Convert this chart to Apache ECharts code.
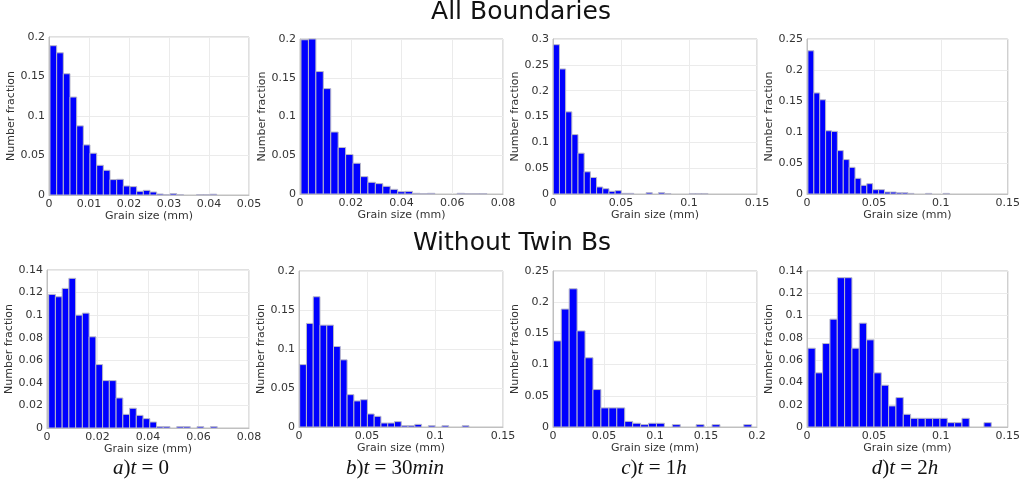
<!DOCTYPE html>
<html>
<head>
<meta charset="utf-8">
<script src="https://cdn.jsdelivr.net/npm/echarts@6/dist/echarts.min.js"></script>
<style>
  html, body { margin: 0; padding: 0; background: #fff; }
  #main { width: 1023px; height: 490px; }
</style>
</head>
<body>
<div id="main"></div>
<script>
// histogram bar heights (number fraction)
// top row: all boundaries
var allT0 = [0.189, 0.180, 0.1535, 0.124, 0.0875, 0.0634, 0.0529, 0.0376, 0.0313, 0.0195, 0.0199, 0.0114, 0.0106, 0.0047, 0.0059, 0.0038, 0.0013, 0.0004, 0.0017, 0.0004, 0, 0, 0.0005, 0.0005, 0.001];
var allT30 = [0.199, 0.2, 0.158, 0.136, 0.080, 0.060, 0.051, 0.0397, 0.0224, 0.0151, 0.0134, 0.0099, 0.006, 0.003, 0.0034, 0.0009, 0.0004, 0.0009, 0, 0, 0, 0.0009, 0.0005, 0.0005, 0.0005];
var allT1h = [0.289, 0.242, 0.159, 0.115, 0.079, 0.043, 0.032, 0.0136, 0.0103, 0.0052, 0.0065, 0.0013, 0.0013, 0, 0, 0.0026, 0, 0.0026, 0.0008, 0, 0, 0, 0.001, 0.001, 0.001];
var allT2h = [0.231, 0.163, 0.152, 0.102, 0.101, 0.070, 0.0555, 0.043, 0.0253, 0.014, 0.0167, 0.007, 0.007, 0.0032, 0.0032, 0.002, 0.002, 0.001, 0, 0, 0.001, 0, 0, 0.001];
// bottom row: without twin boundaries
var noTwinT0 = [0.1184, 0.1163, 0.1237, 0.1326, 0.100, 0.1018, 0.0808, 0.0562, 0.042, 0.042, 0.0266, 0.0121, 0.0175, 0.0112, 0.0083, 0.0053, 0.0012, 0.0012, 0, 0.0012, 0.0012, 0, 0.0012, 0, 0.0012];
var noTwinT30 = [0.080, 0.1328, 0.167, 0.1306, 0.1306, 0.1032, 0.0861, 0.0415, 0.0334, 0.035, 0.0167, 0.0137, 0.0051, 0.0051, 0.0069, 0.0017, 0.0017, 0.0034, 0, 0.0017, 0, 0.0017, 0, 0, 0.0017];
var noTwinT1h = [0.138, 0.189, 0.2215, 0.154, 0.111, 0.060, 0.0306, 0.0306, 0.0306, 0.009, 0.006, 0.0038, 0.006, 0.006, 0, 0.0038, 0, 0, 0.0038, 0, 0.0038, 0, 0, 0, 0.0038];
var noTwinT2h = [0.0707, 0.0486, 0.0749, 0.0968, 0.134, 0.134, 0.0707, 0.0932, 0.0782, 0.0486, 0.0375, 0.0189, 0.0264, 0.0114, 0.0078, 0.0078, 0.0078, 0.0078, 0.0078, 0.0039, 0.0039, 0.0078, 0, 0, 0.0039];

// bin start and bin width (mm) for each panel, same order as above
var binStart = [0.00025, 0.0004, 0.0002, 0.0007, 0.00066, 0.0005, 0.0003, 0.0007];
var binWidth = [0.001667, 0.00293, 0.00455, 0.0044, 0.00267, 0.00498, 0.00778, 0.00548];

// axis ranges and tick steps
var xMax = [0.05, 0.08, 0.15, 0.15, 0.08, 0.15, 0.2, 0.15];
var xStep = [0.01, 0.02, 0.05, 0.05, 0.02, 0.05, 0.05, 0.05];
var yMax = [0.2, 0.2, 0.3, 0.25, 0.14, 0.2, 0.25, 0.14];
var yStep = [0.05, 0.05, 0.05, 0.05, 0.02, 0.05, 0.05, 0.02];

var rowTitles = ['All Boundaries', 'Without Twin Bs'];
var panelTimes = [['a', '0'], ['b', '30', 'min'], ['c', '1', 'h'], ['d', '2', 'h']];

var allSeries = [allT0, allT30, allT1h, allT2h, noTwinT0, noTwinT30, noTwinT1h, noTwinT2h];

// plot box of each panel in pixels
var boxes = [
  {left: 49, top: 37, width: 200, height: 158},
  {left: 300, top: 39, width: 203, height: 155},
  {left: 553, top: 39, width: 204, height: 155},
  {left: 807, top: 39, width: 204, height: 155},
  {left: 47, top: 270, width: 202, height: 158},
  {left: 299, top: 271, width: 204, height: 156},
  {left: 553, top: 271, width: 204, height: 156},
  {left: 807, top: 271, width: 204, height: 156}
];
var yNameGap = [29, 26, 25, 25, 27, 25, 25, 24];

var font = 'DejaVu Sans';
var textCol = '#333333';

var chart = echarts.init(document.getElementById('main'));

var grid = [], xAxis = [], yAxis = [], series = [];
allSeries.forEach(function (vals, i) {
  var b = boxes[i];
  grid.push({left: b.left, top: b.top, width: b.width, height: b.height,
    show: true, borderColor: '#c0c0c0', borderWidth: 1, backgroundColor: '#fff'});
  xAxis.push({
    type: 'value', gridIndex: i, min: 0, max: xMax[i], interval: xStep[i],
    name: 'Grain size (mm)', nameLocation: 'middle', nameGap: 14,
    nameTextStyle: {fontFamily: font, fontSize: 11, color: textCol},
    axisLine: {show: true, onZero: false, lineStyle: {color: '#c0c0c0'}},
    axisTick: {show: false},
    axisLabel: {fontFamily: font, fontSize: 11, color: textCol, margin: 4},
    splitLine: {show: true, lineStyle: {color: '#ebebeb'}}
  });
  yAxis.push({
    type: 'value', gridIndex: i, min: 0, max: yMax[i], interval: yStep[i],
    name: 'Number fraction', nameLocation: 'middle', nameGap: yNameGap[i],
    nameTextStyle: {fontFamily: font, fontSize: 11, color: textCol},
    axisLine: {show: true, lineStyle: {color: '#c0c0c0'}},
    axisTick: {show: false},
    axisLabel: {fontFamily: font, fontSize: 11, color: textCol, margin: 4},
    splitLine: {show: true, lineStyle: {color: '#ebebeb'}}
  });
  var data = vals.map(function (v, k) {
    var x0 = binStart[i] + k * binWidth[i];
    return [x0, x0 + binWidth[i], v];
  });
  series.push({
    type: 'custom', xAxisIndex: i, yAxisIndex: i, data: data,
    encode: {x: [0, 1], y: 2},
    renderItem: function (params, api) {
      var v = api.value(2);
      if (!v) return null;
      var p0 = api.coord([api.value(0), 0]);
      var p1 = api.coord([api.value(1), v]);
      return {
        type: 'rect',
        shape: {x: p0[0], y: p1[1], width: p1[0] - p0[0], height: p0[1] - p1[1]},
        style: {fill: '#0000ff', stroke: '#b8b8c8', lineWidth: 1}
      };
    }
  });
});

// row titles and panel captions
var graphic = [
  {type: 'text', x: 521, y: 12, style: {text: rowTitles[0], font: '25px "DejaVu Sans"', fill: '#111', align: 'center', verticalAlign: 'middle'}},
  {type: 'text', x: 512, y: 243, style: {text: rowTitles[1], font: '25px "DejaVu Sans"', fill: '#111', align: 'center', verticalAlign: 'middle'}}
];
var capX = [141, 395, 654, 905];
panelTimes.forEach(function (p, j) {
  var txt = '{i|' + p[0] + '}{r|)}{i|t}{r| = ' + p[1] + '}' + (p[2] ? '{i|' + p[2] + '}' : '');
  graphic.push({
    type: 'text', x: capX[j], y: 468,
    style: {
      text: txt, align: 'center', verticalAlign: 'middle', fill: '#111',
      rich: {
        i: {fontFamily: 'Liberation Serif', fontStyle: 'italic', fontSize: 21, fill: '#111'},
        r: {fontFamily: 'Liberation Serif', fontSize: 21, fill: '#111'}
      }
    }
  });
});

chart.setOption({
  animation: false,
  grid: grid,
  xAxis: xAxis,
  yAxis: yAxis,
  series: series,
  graphic: graphic
});
</script>
</body>
</html>
